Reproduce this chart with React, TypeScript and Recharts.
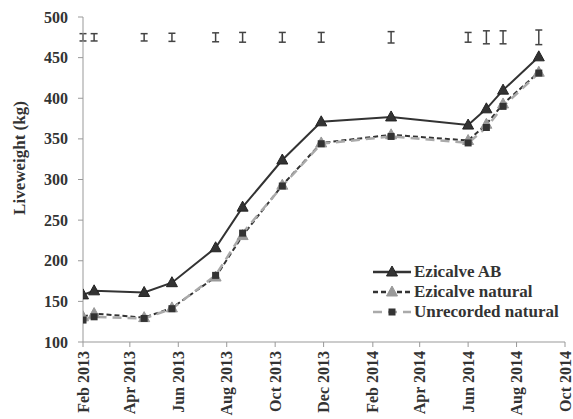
import React from "react";
import {
  ComposedChart,
  Line,
  Scatter,
  ErrorBar,
  XAxis,
  YAxis,
} from "recharts";

// weighing dates
const dates = [
  "2013-02-01", "2013-02-15", "2013-04-19", "2013-05-24", "2013-07-18",
  "2013-08-21", "2013-10-10", "2013-11-28", "2014-02-24", "2014-06-01",
  "2014-06-24", "2014-07-15", "2014-08-29",
];

const ezicalveAB = [158, 163, 161, 173, 216, 266, 324, 371, 377, 367, 387, 410, 451];
const ezicalveNatural = [131, 135, 130, 142, 180, 231, 293, 345, 355, 348, 368, 393, 432];
const unrecordedNatural = [127, 131, 129, 141, 182, 234, 292, 344, 353, 345, 364, 390, 431];

// SED bars drawn along the top of the plot
const sedLevel = 475;
const sed = [4.5, 4.5, 4.5, 5, 5.5, 6, 6, 6, 7, 6, 8, 8, 9];

const tickDates = [
  "2013-02-01", "2013-04-01", "2013-06-01", "2013-08-01", "2013-10-01",
  "2013-12-01", "2014-02-01", "2014-04-01", "2014-06-01", "2014-08-01", "2014-10-01",
];
const tickLabels = [
  "Feb 2013", "Apr 2013", "Jun 2013", "Aug 2013", "Oct 2013", "Dec 2013",
  "Feb 2014", "Apr 2014", "Jun 2014", "Aug 2014", "Oct 2014",
];
const yTicks = [100, 150, 200, 250, 300, 350, 400, 450, 500];

const toDay = (s: string) =>
  (Date.parse(s + "T00:00:00Z") - Date.parse(tickDates[0] + "T00:00:00Z")) / 86400000;

const xTicks = tickDates.map(toDay);

const data = dates.map((d, i) => ({
  day: toDay(d),
  ab: ezicalveAB[i],
  nat: ezicalveNatural[i],
  unr: unrecordedNatural[i],
  top: sedLevel,
  err: sed[i],
}));

const font = "'Liberation Serif', 'Times New Roman', serif";
const textColor = "#333";

const Triangle = (fill: string, stroke: string) => (props: any) => {
  const { cx, cy, index } = props;
  if (cx == null || cy == null) return <g key={index} />;
  return (
    <path
      key={index}
      d={`M${cx},${cy - 6} L${cx + 5.5},${cy + 4} L${cx - 5.5},${cy + 4} Z`}
      fill={fill}
      stroke={stroke}
      strokeWidth={1}
    />
  );
};

const Square = (props: any) => {
  const { cx, cy, index } = props;
  if (cx == null || cy == null) return <g key={index} />;
  return <rect key={index} x={cx - 3.5} y={cy - 3.5} width={7} height={7} fill="#333" />;
};

const XTick = (props: any) => {
  const { x, y, payload } = props;
  const i = xTicks.indexOf(payload.value);
  return (
    <text
      x={x}
      y={y}
      dy="0.35em"
      transform={`rotate(-90 ${x} ${y})`}
      textAnchor="end"
      style={{ fontFamily: font, fontWeight: "bold", fontSize: 16 }}
      fill={textColor}
    >
      {tickLabels[i]}
    </text>
  );
};

const YTick = (props: any) => {
  const { x, y, payload } = props;
  return (
    <text
      x={x}
      y={y}
      dy="0.35em"
      textAnchor="end"
      style={{ fontFamily: font, fontWeight: "bold", fontSize: 16 }}
      fill={textColor}
    >
      {payload.value}
    </text>
  );
};

const legendRows = [
  { label: "Ezicalve AB", stroke: "#333", dash: undefined, marker: "tri-dark" },
  { label: "Ezicalve natural", stroke: "#333", dash: "5 3", marker: "tri-grey" },
  { label: "Unrecorded natural", stroke: "#aaa", dash: "9 6", marker: "square" },
];

const LegendBox = () => (
  <div
    style={{
      position: "absolute",
      left: 372,
      top: 262,
      fontFamily: font,
      fontWeight: "bold",
      fontSize: 17,
      color: textColor,
    }}
  >
    {legendRows.map((r) => (
      <div key={r.label} style={{ display: "flex", alignItems: "center", height: 20 }}>
        <svg width={40} height={14} style={{ marginRight: 2 }}>
          <line x1={1} y1={7} x2={39} y2={7} stroke={r.stroke} strokeWidth={2.5} strokeDasharray={r.dash} />
          {r.marker === "square" ? (
            <rect x={16.5} y={3.5} width={7} height={7} fill="#333" />
          ) : (
            <path
              d="M20,1 L25.5,11 L14.5,11 Z"
              fill={r.marker === "tri-grey" ? "#999" : "#333"}
              stroke={r.marker === "tri-grey" ? "#999" : "#222"}
            />
          )}
        </svg>
        <span>{r.label}</span>
      </div>
    ))}
  </div>
);

export default function App() {
  return (
    <div style={{ position: "absolute", left: 0, top: 0, width: 573, height: 419, background: "#fff" }}>
      <ComposedChart
        width={573}
        height={419}
        data={data}
        margin={{ top: 17, right: 8, left: 0, bottom: 0 }}
      >
        <XAxis
          dataKey="day"
          type="number"
          domain={[xTicks[0], xTicks[xTicks.length - 1]]}
          ticks={xTicks}
          interval={0}
          height={77}
          tick={<XTick />}
          tickSize={5}
          tickMargin={4}
          stroke="#999"
          allowDataOverflow
        />
        <YAxis
          type="number"
          domain={[100, 500]}
          ticks={yTicks}
          width={83}
          tickSize={5}
          tickMargin={10}
          stroke="#999"
          tick={<YTick />}
        />
        <Scatter dataKey="top" shape={() => <g />} isAnimationActive={false} legendType="none">
          <ErrorBar dataKey="err" direction="y" width={3.5} stroke="#444" strokeWidth={1.5} />
        </Scatter>
        <Line
          dataKey="nat"
          stroke="#333"
          strokeWidth={2}
          strokeDasharray="5 3"
          dot={Triangle("#999", "#999")}
          isAnimationActive={false}
        />
        <Line
          dataKey="unr"
          stroke="#aaa"
          strokeWidth={2.5}
          strokeDasharray="9 6"
          dot={Square}
          isAnimationActive={false}
        />
        <Line
          dataKey="ab"
          stroke="#333"
          strokeWidth={2}
          dot={Triangle("#333", "#222")}
          isAnimationActive={false}
        />
      </ComposedChart>
      <div
        style={{
          position: "absolute",
          left: 20,
          top: 158,
          transform: "translate(-50%, -50%) rotate(-90deg)",
          fontFamily: font,
          fontWeight: "bold",
          fontSize: 17,
          color: textColor,
          whiteSpace: "nowrap",
        }}
      >
        Liveweight (kg)
      </div>
      <LegendBox />
    </div>
  );
}
